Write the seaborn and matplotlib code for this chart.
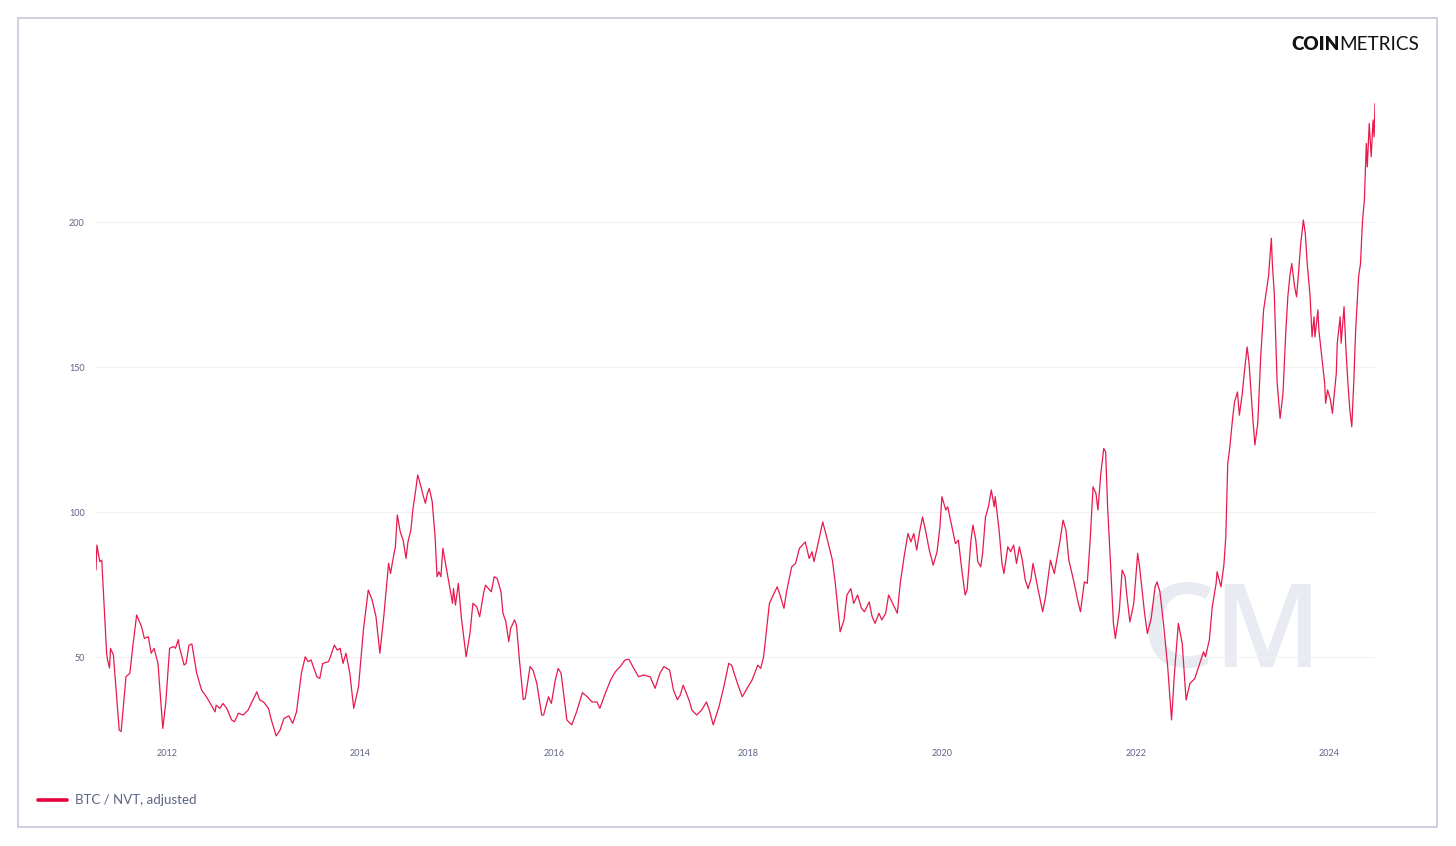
import pandas as pd
import seaborn as sns
import matplotlib.pyplot as plt
from matplotlib.patches import Rectangle
from matplotlib.lines import Line2D

# ==========================================
# data (decimal years)
# ==========================================
years = [
    2011.27, 2011.28, 2011.31, 2011.33, 2011.38, 2011.39, 2011.41, 2011.42, 2011.45, 2011.47,
    2011.51, 2011.53, 2011.58, 2011.62, 2011.65, 2011.69, 2011.74, 2011.77, 2011.81, 2011.84,
    2011.87, 2011.91, 2011.96, 2011.99, 2012.03, 2012.07, 2012.09, 2012.12, 2012.13, 2012.18,
    2012.20, 2012.23, 2012.26, 2012.27, 2012.31, 2012.36, 2012.41, 2012.46, 2012.50, 2012.51,
    2012.55, 2012.58, 2012.62, 2012.67, 2012.70, 2012.74, 2012.79, 2012.84, 2012.89, 2012.93,
    2012.96, 2013.00, 2013.05, 2013.08, 2013.13, 2013.17, 2013.21, 2013.26, 2013.30, 2013.34,
    2013.39, 2013.43, 2013.46, 2013.49, 2013.55, 2013.58, 2013.61, 2013.67, 2013.69, 2013.73,
    2013.76, 2013.79, 2013.82, 2013.85, 2013.89, 2013.93, 2013.98, 2014.03, 2014.08, 2014.12,
    2014.16, 2014.20, 2014.24, 2014.29, 2014.31, 2014.34, 2014.36, 2014.38, 2014.41, 2014.44,
    2014.47, 2014.49, 2014.52, 2014.54, 2014.57, 2014.59, 2014.61, 2014.65, 2014.67, 2014.69,
    2014.71, 2014.74, 2014.77, 2014.79, 2014.81, 2014.83, 2014.85, 2014.89, 2014.92, 2014.95,
    2014.96, 2014.98, 2015.01, 2015.04, 2015.09, 2015.13, 2015.16, 2015.20, 2015.23, 2015.27,
    2015.29, 2015.32, 2015.35, 2015.38, 2015.41, 2015.45, 2015.47, 2015.50, 2015.53, 2015.55,
    2015.59, 2015.61, 2015.64, 2015.68, 2015.70, 2015.75, 2015.78, 2015.82, 2015.87, 2015.89,
    2015.94, 2015.97, 2016.01, 2016.04, 2016.07, 2016.13, 2016.18, 2016.23, 2016.29, 2016.34,
    2016.39, 2016.44, 2016.47, 2016.52, 2016.58, 2016.63, 2016.68, 2016.73, 2016.77, 2016.82,
    2016.87, 2016.92, 2016.99, 2017.04, 2017.09, 2017.13, 2017.19, 2017.23, 2017.27, 2017.30,
    2017.33, 2017.39, 2017.42, 2017.47, 2017.52, 2017.57, 2017.60, 2017.64, 2017.70, 2017.75,
    2017.80, 2017.83, 2017.89, 2017.94, 2017.99, 2018.04, 2018.10, 2018.13, 2018.16, 2018.22,
    2018.26, 2018.30, 2018.33, 2018.37, 2018.40, 2018.45, 2018.49, 2018.53, 2018.59, 2018.63,
    2018.66, 2018.68, 2018.73, 2018.77, 2018.81, 2018.87, 2018.90, 2018.95, 2018.99, 2019.02,
    2019.06, 2019.09, 2019.13, 2019.17, 2019.20, 2019.25, 2019.28, 2019.31, 2019.35, 2019.38,
    2019.42, 2019.45, 2019.50, 2019.54, 2019.57, 2019.61, 2019.65, 2019.68, 2019.71, 2019.74,
    2019.77, 2019.80, 2019.83, 2019.87, 2019.91, 2019.95, 2019.98, 2020.00, 2020.04, 2020.06,
    2020.11, 2020.14, 2020.17, 2020.21, 2020.24, 2020.26, 2020.30, 2020.32, 2020.35, 2020.37,
    2020.40, 2020.42, 2020.45, 2020.48, 2020.51, 2020.54, 2020.55, 2020.59, 2020.62, 2020.64,
    2020.68, 2020.71, 2020.74, 2020.77, 2020.80, 2020.83, 2020.86, 2020.89, 2020.92, 2020.94,
    2020.98, 2021.04, 2021.07, 2021.12, 2021.16, 2021.19, 2021.22, 2021.25, 2021.28, 2021.31,
    2021.35, 2021.38, 2021.40, 2021.43, 2021.47, 2021.50, 2021.53, 2021.56, 2021.59, 2021.61,
    2021.64, 2021.67, 2021.69, 2021.71, 2021.74, 2021.77, 2021.79, 2021.83, 2021.86, 2021.89,
    2021.91, 2021.94, 2021.98, 2022.02, 2022.04, 2022.09, 2022.12, 2022.16, 2022.20, 2022.22,
    2022.25, 2022.29, 2022.33, 2022.36, 2022.37, 2022.40, 2022.44, 2022.48, 2022.52, 2022.56,
    2022.61, 2022.65, 2022.70, 2022.72, 2022.76, 2022.79, 2022.83, 2022.84, 2022.88, 2022.91,
    2022.93, 2022.95, 2022.97, 2023.00, 2023.02, 2023.05, 2023.07, 2023.10, 2023.12, 2023.15,
    2023.17, 2023.21, 2023.23, 2023.26, 2023.29, 2023.32, 2023.34, 2023.37, 2023.40, 2023.41,
    2023.43, 2023.46, 2023.49, 2023.52, 2023.55, 2023.57, 2023.59, 2023.61, 2023.64, 2023.66,
    2023.68, 2023.70, 2023.73, 2023.75, 2023.77, 2023.80, 2023.82, 2023.84, 2023.85, 2023.88,
    2023.89, 2023.92, 2023.95, 2023.96, 2023.98, 2024.01, 2024.03, 2024.07, 2024.08, 2024.11,
    2024.12, 2024.15, 2024.17, 2024.19, 2024.21, 2024.23, 2024.25, 2024.27, 2024.30, 2024.32,
    2024.34, 2024.36, 2024.38, 2024.39, 2024.41, 2024.43, 2024.45, 2024.46, 2024.47,
]

nvt = [
    80.0, 88.6, 82.9, 83.4, 51.3, 49.0, 46.2, 53.0, 50.7, 42.0,
    24.8, 24.3, 43.2, 44.4, 53.6, 64.5, 60.5, 56.4, 57.0, 51.3,
    53.0, 47.8, 25.4, 34.0, 53.0, 53.6, 53.0, 56.0, 53.6, 47.2,
    47.8, 54.1, 54.5, 52.4, 44.4, 38.6, 36.3, 33.4, 31.1, 33.4,
    32.3, 34.0, 32.3, 28.3, 27.7, 30.6, 30.0, 31.7, 35.2, 38.0,
    35.2, 34.5, 32.3, 28.3, 22.8, 24.8, 28.8, 29.7, 27.1, 31.1,
    44.4, 50.1, 48.4, 49.0, 43.2, 42.6, 47.8, 48.4, 50.1, 54.1,
    52.4, 53.0, 47.8, 51.3, 44.4, 32.3, 39.8, 59.3, 73.1, 69.7,
    63.9, 51.3, 63.9, 82.3, 78.8, 84.6, 88.0, 99.0, 93.2, 90.3,
    84.0, 89.7, 93.8, 100.7, 107.6, 112.8, 110.5, 105.3, 103.0, 106.4,
    108.1, 103.6, 91.5, 77.7, 79.4, 77.7, 87.5, 80.0, 74.2, 68.5,
    73.6, 67.9, 75.4, 63.9, 50.1, 58.2, 68.5, 67.3, 63.9, 72.0,
    74.8, 73.6, 72.5, 77.7, 77.1, 72.5, 65.1, 62.2, 55.3, 59.9,
    62.8, 61.0, 49.0, 35.3, 35.7, 46.7, 45.5, 40.9, 30.0, 30.0,
    36.3, 34.0, 42.0, 46.1, 44.4, 28.3, 26.6, 31.1, 37.7, 36.3,
    34.5, 34.5, 32.3, 36.9, 42.0, 44.9, 46.7, 49.0, 49.2, 46.1,
    43.2, 43.8, 43.2, 39.2, 44.4, 46.7, 45.5, 38.6, 35.3, 36.9,
    40.3, 35.2, 31.7, 30.0, 31.7, 34.5, 31.7, 26.6, 32.9, 39.8,
    47.8, 47.2, 40.9, 36.3, 39.2, 42.0, 47.2, 46.1, 50.1, 68.5,
    71.4, 74.2, 71.4, 66.8, 73.1, 81.1, 82.3, 87.5, 89.7, 84.0,
    86.3, 82.9, 90.3, 96.6, 91.5, 83.4, 75.4, 58.7, 62.8, 71.4,
    73.6, 68.5, 71.4, 66.8, 65.6, 69.0, 63.9, 61.6, 65.1, 62.8,
    65.1, 71.4, 67.9, 65.1, 75.4, 84.6, 92.6, 89.7, 92.6, 86.9,
    93.2, 98.3, 93.8, 86.9, 81.7, 86.3, 94.9, 105.3, 100.7, 101.8,
    93.8, 89.1, 90.3, 78.8, 71.4, 73.1, 90.3, 95.5, 90.3, 82.9,
    81.1, 85.7, 98.3, 101.8, 107.6, 101.8, 105.3, 93.8, 82.3, 78.8,
    88.0, 86.3, 88.6, 82.3, 88.0, 83.4, 76.6, 73.6, 77.1, 82.3,
    75.4, 65.6, 70.8, 83.4, 78.8, 84.6, 90.3, 97.2, 93.8, 83.4,
    77.7, 73.1, 69.7, 65.6, 75.9, 75.4, 90.3, 108.7, 106.4, 100.7,
    113.3, 121.9, 120.7, 101.8, 82.3, 61.6, 56.4, 65.6, 80.0, 77.7,
    70.8, 62.1, 68.5, 85.7, 81.1, 65.6, 58.1, 63.3, 74.2, 75.9,
    72.5, 60.5, 46.7, 32.9, 28.3, 44.4, 61.6, 54.7, 35.2, 40.9,
    42.6, 46.7, 51.8, 50.1, 55.9, 67.3, 75.4, 79.4, 74.2, 81.7,
    91.5, 116.8, 121.9, 132.3, 138.0, 141.4, 133.4, 140.9, 147.8, 156.9,
    151.3, 131.7, 123.1, 130.6, 153.6, 169.7, 174.2, 181.1, 194.4, 185.7,
    175.4, 144.4, 132.3, 140.9, 162.8, 174.2, 181.1, 185.7, 177.7, 174.2,
    182.2, 191.4, 200.7, 196.1, 185.7, 174.2, 160.4, 167.3, 160.4, 169.7,
    162.8, 153.6, 144.4, 137.5, 142.1, 138.6, 134.0, 147.8, 158.2, 167.3,
    158.2, 170.8, 155.9, 144.4, 135.2, 129.4, 144.4, 162.8, 181.1, 185.7,
    200.1, 207.6, 227.1, 219.0, 234.0, 222.5, 235.2, 229.4, 240.9,
]

x_ticks = [2012, 2014, 2016, 2018, 2020, 2022, 2024]
y_ticks = [50, 100, 150, 200]
series_name = "BTC / NVT, adjusted"

df = pd.DataFrame({"year": years, "nvt": nvt})

# ==========================================
# plot
# ==========================================
sns.set_style("white")
plt.rcParams["font.family"] = ["Lato", "DejaVu Sans"]

line_color = "#e8194d"
text_color = "#5d6485"

fig = plt.figure(figsize=(14.56, 8.46), dpi=100)
ax = fig.add_axes([0.0659, 0.1229, 0.8785, 0.7636])

# outer frame
fig.patches.append(Rectangle((18 / 1456, 1 - 827 / 846), 1419 / 1456, 809 / 846,
                             transform=fig.transFigure, fill=False,
                             edgecolor="#c3c7d8", linewidth=1.2))

# watermark (CM logo) behind the line
ax.text(2022.98, 57, "CM", fontsize=84, color="#e9ebf3", ha="center", va="center",
        fontweight="semibold", family=["Open Sans", "DejaVu Sans"], zorder=0)

sns.lineplot(data=df, x="year", y="nvt", ax=ax, color=line_color, linewidth=0.9,
             legend=False, zorder=3)

ax.set_xlim(2011.27, 2024.47)
ax.set_ylim(20.69, 243.45)
ax.set_xticks(x_ticks)
ax.set_xticklabels([str(y) for y in x_ticks])
ax.set_yticks(y_ticks)
ax.tick_params(axis="both", length=0, labelsize=6.5, colors=text_color)
ax.tick_params(axis="y", pad=8)
ax.tick_params(axis="x", pad=5)
ax.set_xlabel("")
ax.set_ylabel("")
ax.grid(axis="y", color="#f1f1f4", linewidth=0.8)
ax.grid(axis="x", visible=False)
for s in ax.spines.values():
    s.set_visible(False)

# legend at bottom left
fig.lines.append(Line2D([38 / 1456, 67 / 1456], [1 - 800 / 846, 1 - 800 / 846],
                        transform=fig.transFigure, color="#e3003d", linewidth=2.6))
fig.text(75 / 1456, 1 - 800 / 846, series_name, fontsize=9.5, color=text_color,
         ha="left", va="center")

# logo, top right
coin = fig.text(1291 / 1456, 1 - 44 / 846, "COIN", fontsize=13.6, fontweight="heavy",
                color="#111111", ha="left", va="center")
fig.canvas.draw()
bb = coin.get_window_extent(renderer=fig.canvas.get_renderer())
fig.text(bb.x1 / 1456, 1 - 44 / 846, "METRICS", fontsize=13.6, fontweight="normal",
         color="#111111", ha="left", va="center")

plt.savefig("out.png", dpi=100)
